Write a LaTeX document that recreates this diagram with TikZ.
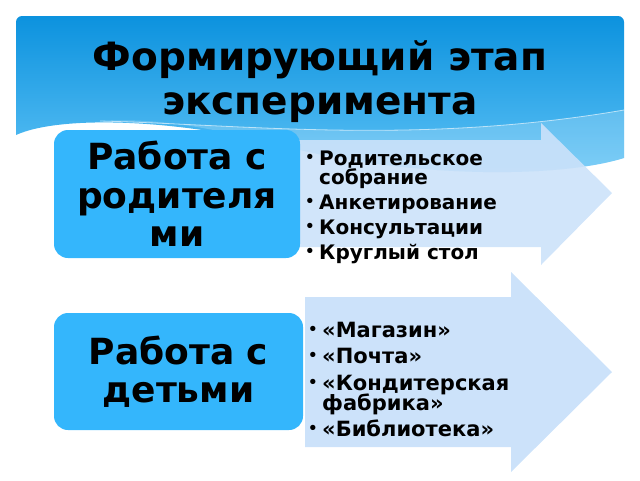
\documentclass[tikz,border=0pt]{standalone}
\usepackage{fontspec}
\setmainfont{DejaVu Sans}
\definecolor{bgtop}{RGB}{12,146,222}
\definecolor{bgbot}{RGB}{95,195,246}
\definecolor{boxblue}{RGB}{52,182,252}
\definecolor{arrowblue}{RGB}{204,226,250}
\newcommand\blt{\makebox[14pt][l]{\raisebox{0.25ex}{\fontsize{15}{15}\selectfont•}}}
\newcommand\nob{\hspace*{14pt}}
\newcommand\tightlines{\lineskiplimit-20pt\relax}
\begin{document}
\begin{tikzpicture}[x=1pt,y=-1pt,
  box/.style={fill=boxblue,rounded corners=14pt,align=center,inner sep=0pt,font=\fontsize{36}{38.4}\selectfont\bfseries},
  list/.style={anchor=base west,inner sep=0pt,align=left}]
\useasboundingbox (0,0) rectangle (640,480);
\shade[top color=bgtop,bottom color=bgbot] (16,135) -- (16,22) arc (180:270:6) -- (618,16) arc (270:360:6) -- (624,158) .. controls (560,178) and (420,178) .. (300,150) .. controls (180,118) and (60,115) .. (16,135) -- cycle;
\fill[white,opacity=0.2] (100,121) .. controls (250,125) and (420,145) .. (624,110) -- (624,158) .. controls (560,178) and (420,178) .. (300,150) .. controls (200,124) and (150,118) .. (100,121) -- cycle;
\draw[white,opacity=0.6,line width=0.8pt] (100,121) .. controls (250,125) and (420,145) .. (624,110);
\fill[arrowblue,opacity=0.9] (290,140) -- (541,140) -- (541,123) -- (612,193) -- (541,265) -- (541,247) -- (290,247) -- cycle;
\fill[arrowblue] (305,297) -- (511,297) -- (511,272) -- (612,372) -- (511,472) -- (511,447) -- (305,447) -- cycle;
\node[font=\fontsize{39}{44}\selectfont\bfseries,align=center] (title) at (320,82) {Формирующий этап\\эксперимента};
\node[box,minimum width=246pt,minimum height=128pt] (parents) at (177,194) {Работа с\\родителя\\ми};
\node[box,minimum width=249pt,minimum height=117pt] (kids) at (178.5,371.5) {Работа с\\детьми};
\node[list,font=\fontsize{20}{19.5}\selectfont\bfseries\tightlines] (plist) at (305,259) {\blt Родительское\\\nob собрание\\[5.5pt]\blt Анкетирование\\[5.5pt]\blt Консультации\\[5pt]\blt Круглый стол};
\node[list,font=\fontsize{21}{20.5}\selectfont\bfseries\tightlines] (klist) at (308,436) {\blt «Магазин»\\[5.5pt]\blt «Почта»\\[6pt]\blt «Кондитерская\\\nob фабрика»\\[5pt]\blt «Библиотека»};
\end{tikzpicture}
\end{document}
